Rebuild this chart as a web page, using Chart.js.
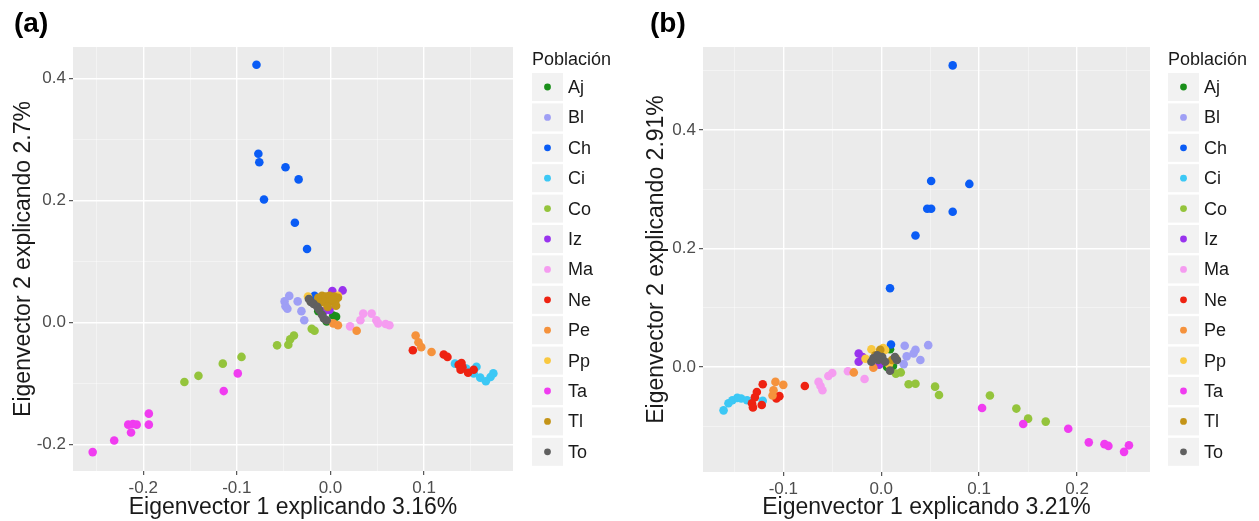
<!DOCTYPE html>
<html>
<head>
<meta charset="utf-8">
<script src="https://cdn.jsdelivr.net/npm/chart.js@4.4.1/dist/chart.umd.min.js"></script>
<style>
  body { margin: 0; background: #fff; }
  #wrap { position: relative; width: 1259px; height: 521px; }
  canvas { position: absolute; top: 0; }
  #graficoA { left: 0; }
  #graficoB { left: 630px; }
</style>
</head>
<body>
<div id="wrap">
  <canvas id="graficoA" width="630" height="521"></canvas>
  <canvas id="graficoB" width="629" height="521"></canvas>
</div>
<script>
const poblaciones = ['Aj','Bl','Ch','Ci','Co','Iz','Ma','Ne','Pe','Pp','Ta','Tl','To'];
const colores = ['#1a8f1a','#9f9ff5','#0a5cf5','#3cc8f5','#94c43c','#9933ee','#f59cf0','#ee2211','#f5923c','#f9c840','#f03cf0','#c49418','#606060'];

// (a) Eigenvector 1 (x) y Eigenvector 2 (y)
const aAj = [[0.003,0.012],[0.006,0.010],[-0.004,0.002],[-0.013,0.019]];
const aBl = [[-0.044,0.044],[-0.049,0.035],[-0.048,0.027],[-0.046,0.023],[-0.035,0.035],[-0.031,0.019],[-0.028,0.004]];
const aCh = [[-0.079,0.423],[-0.077,0.277],[-0.076,0.263],[-0.048,0.255],[-0.034,0.235],[-0.071,0.202],[-0.038,0.164],[-0.025,0.121],[-0.017,0.044]];
const aCi = [[0.133,-0.067],[0.145,-0.075],[0.156,-0.072],[0.153,-0.083],[0.160,-0.090],[0.166,-0.096],[0.171,-0.089],[0.174,-0.083]];
const aCo = [[-0.020,-0.010],[-0.017,-0.013],[-0.057,-0.037],[-0.045,-0.036],[-0.043,-0.027],[-0.039,-0.021],[-0.095,-0.056],[-0.115,-0.067],[-0.141,-0.087],[-0.156,-0.097]];
const aIz = [[0.002,0.052],[0.013,0.053],[-0.007,0.019],[-0.001,0.021]];
const aMa = [[0.021,-0.006],[0.032,0.004],[0.035,0.015],[0.044,0.015],[0.049,0.004],[0.051,-0.001],[0.059,-0.002],[0.063,-0.004]];
const aNe = [[0.088,-0.045],[0.121,-0.052],[0.125,-0.056],[0.137,-0.069],[0.140,-0.066],[0.141,-0.073],[0.139,-0.077],[0.147,-0.082],[0.153,-0.077]];
const aPe = [[0.003,-0.001],[0.008,-0.004],[0.028,-0.013],[0.091,-0.021],[0.094,-0.032],[0.097,-0.040],[0.108,-0.048]];
const aPp = [[-0.024,0.043],[0.008,0.044],[-0.004,0.030]];
const aTa = [[-0.254,-0.212],[-0.231,-0.193],[-0.216,-0.167],[-0.213,-0.180],[-0.211,-0.166],[-0.207,-0.167],[-0.194,-0.149],[-0.194,-0.167],[-0.114,-0.112],[-0.099,-0.083]];
const aTl = [[-0.013,0.041],[-0.009,0.044],[-0.005,0.043],[-0.001,0.044],[0.004,0.043],[0.008,0.041],[-0.011,0.033],[-0.006,0.034],[-0.001,0.034],[0.005,0.033],[-0.003,0.026],[0.006,0.028],[0.002,0.038]];
const aTo = [[-0.021,0.034],[-0.018,0.031],[-0.014,0.026],[-0.012,0.021],[-0.009,0.013],[-0.007,0.007],[-0.004,0.004],[-0.023,0.039]];

// (b)
const bAj = [[0.009,0.030],[0.006,0.000],[0.012,0.002]];
const bBl = [[0.024,0.036],[0.048,0.037],[0.035,0.029],[0.033,0.023],[0.026,0.018],[0.040,0.012],[0.023,0.005],[0.016,0.012]];
const bCh = [[0.073,0.509],[0.051,0.314],[0.090,0.309],[0.047,0.267],[0.051,0.267],[0.073,0.262],[0.035,0.222],[0.009,0.133],[0.010,0.038]];
const bCi = [[-0.161,-0.073],[-0.156,-0.061],[-0.152,-0.056],[-0.147,-0.052],[-0.143,-0.053],[-0.137,-0.056],[-0.121,-0.057]];
const bCo = [[0.015,-0.011],[0.020,-0.009],[0.028,-0.029],[0.035,-0.028],[0.055,-0.033],[0.059,-0.047],[0.111,-0.048],[0.138,-0.070],[0.150,-0.087],[0.168,-0.092]];
const bIz = [[-0.023,0.023],[-0.023,0.009],[-0.002,0.004],[-0.019,0.017]];
const bMa = [[-0.034,-0.007],[-0.017,-0.020],[-0.050,-0.010],[-0.054,-0.015],[-0.064,-0.025],[-0.062,-0.032],[-0.060,-0.039]];
const bNe = [[-0.121,-0.029],[-0.078,-0.032],[-0.127,-0.042],[-0.129,-0.051],[-0.132,-0.061],[-0.131,-0.068],[-0.122,-0.064],[-0.107,-0.053],[-0.104,-0.049]];
const bPe = [[-0.108,-0.025],[-0.100,-0.030],[-0.110,-0.039],[-0.111,-0.048],[-0.028,-0.009],[-0.008,-0.001]];
const bPp = [[-0.010,0.030],[0.004,0.029],[0.008,0.005],[-0.016,0.014],[0.002,0.032],[0.015,0.015]];
const bTa = [[0.103,-0.069],[0.145,-0.096],[0.191,-0.104],[0.212,-0.127],[0.228,-0.130],[0.232,-0.133],[0.248,-0.143],[0.253,-0.132]];
const bTl = [[-0.006,0.020],[0.011,0.012],[-0.001,0.029]];
const bTo = [[-0.008,0.015],[-0.003,0.012],[0.001,0.017],[-0.004,0.020],[-0.010,0.009],[0.004,0.009],[0.009,-0.006],[0.016,0.012],[0.014,0.017]];

const puntosA = [aAj,aBl,aCh,aCi,aCo,aIz,aMa,aNe,aPe,aPp,aTa,aTl,aTo];
const puntosB = [bAj,bBl,bCh,bCi,bCo,bIz,bMa,bNe,bPe,bPp,bTa,bTl,bTo];

// ejes
const xMayA = [-0.2,-0.1,0,0.1];
const xMenA = [-0.25,-0.15,-0.05,0.05,0.15];
const yMayA = [-0.2,0,0.2,0.4];
const yMenA = [-0.1,0.1,0.3];
const xMayB = [-0.1,0,0.1,0.2];
const xMenB = [-0.15,-0.05,0.05,0.15,0.25];
const yMayB = [0,0.2,0.4];
const yMenB = [-0.1,0.1,0.3,0.5];

const fuente = "'Liberation Sans', Arial, Helvetica, sans-serif";

function eje(min, max, mayores, menores, titulo, padTitulo, tam) {
  return {
    type: 'linear', min: min, max: max,
    afterBuildTicks: s => {
      s.ticks = mayores.concat(menores).sort((p, q) => p - q).map(v => ({ value: v }));
    },
    afterFit: s => {
      if (s.isHorizontal()) s.height = tam; else s.width = tam;
      s.paddingTop = 0; s.paddingBottom = 0; s.paddingLeft = 0; s.paddingRight = 0;
    },
    border: { display: false },
    grid: {
      color: c => (c.tick && mayores.includes(c.tick.value)) ? '#ffffff' : 'rgba(255,255,255,0.6)',
      lineWidth: c => (c.tick && mayores.includes(c.tick.value)) ? 1.4 : 0.7,
      tickColor: c => (c.tick && mayores.includes(c.tick.value)) ? '#333333' : 'rgba(0,0,0,0)',
      tickLength: 4,
      tickWidth: 1
    },
    ticks: {
      autoSkip: false, maxRotation: 0, padding: 3,
      color: '#4d4d4d',
      font: { family: fuente, size: 17 },
      callback: v => mayores.includes(v) ? v.toFixed(1) : ''
    },
    title: {
      display: true, text: titulo, color: '#1a1a1a',
      font: { family: fuente, size: 23 },
      padding: padTitulo
    }
  };
}

const fondoYLeyenda = {
  id: 'fondoYLeyenda',
  beforeDraw(chart, args, op) {
    const { ctx, chartArea: ca } = chart;
    ctx.save();
    ctx.fillStyle = '#ebebeb';
    ctx.fillRect(ca.left, ca.top, ca.right - ca.left, ca.bottom - ca.top);
    ctx.restore();
  },
  afterDraw(chart, args, op) {
    const ctx = chart.ctx;
    ctx.save();
    ctx.fillStyle = '#000';
    ctx.font = 'bold 28px ' + fuente;
    ctx.textBaseline = 'middle';
    ctx.textAlign = 'left';
    ctx.fillText(op.etiqueta, op.etiquetaX, 24);
    ctx.font = '18px ' + fuente;
    ctx.fillStyle = '#1a1a1a';
    ctx.fillText('Población', op.x, 60);
    poblaciones.forEach((p, i) => {
      const yc = 87 + 30.4 * i;
      ctx.fillStyle = '#f2f2f2';
      ctx.fillRect(op.x, yc - 14, 31, 28);
      ctx.fillStyle = colores[i];
      ctx.beginPath();
      ctx.arc(op.x + 15.5, yc, 3.4, 0, Math.PI * 2);
      ctx.fill();
      ctx.fillStyle = '#1a1a1a';
      ctx.fillText(p, op.x + 36, yc + 1);
    });
    ctx.restore();
  }
};

function dibujar(id, puntos, ejeX, ejeY, padDer, leyenda) {
  new Chart(document.getElementById(id), {
    type: 'scatter',
    data: {
      datasets: poblaciones.map((p, i) => ({
        label: p,
        data: puntos[i].map(d => ({ x: d[0], y: d[1] })),
        backgroundColor: colores[i],
        borderWidth: 0,
        pointRadius: 4.3,
        order: -i
      }))
    },
    options: {
      responsive: false,
      animation: false,
      layout: { padding: { top: 47, right: padDer, bottom: 0, left: 0 } },
      plugins: {
        legend: { display: false },
        tooltip: { enabled: false },
        fondoYLeyenda: leyenda
      },
      scales: { x: ejeX, y: ejeY }
    },
    plugins: [fondoYLeyenda]
  });
}

dibujar('graficoA', puntosA,
  eje(-0.275, 0.195, xMayA, xMenA, 'Eigenvector 1 explicando 3.16%', { top: 0, bottom: 0 }, 50),
  eje(-0.243, 0.452, yMayA, yMenA, 'Eigenvector 2 explicando 2.7%', { top: 10, bottom: 0 }, 73),
  117, { etiqueta: '(a)', etiquetaX: 14, x: 532 });

dibujar('graficoB', puntosB,
  eje(-0.182, 0.2745, xMayB, xMenB, 'Eigenvector 1 explicando 3.21%', { top: 0, bottom: 0 }, 49),
  eje(-0.177, 0.540, yMayB, yMenB, 'Eigenvector 2 explicando 2.91%', { top: 13, bottom: 0 }, 73),
  109, { etiqueta: '(b)', etiquetaX: 20, x: 538 });
</script>
</body>
</html>
